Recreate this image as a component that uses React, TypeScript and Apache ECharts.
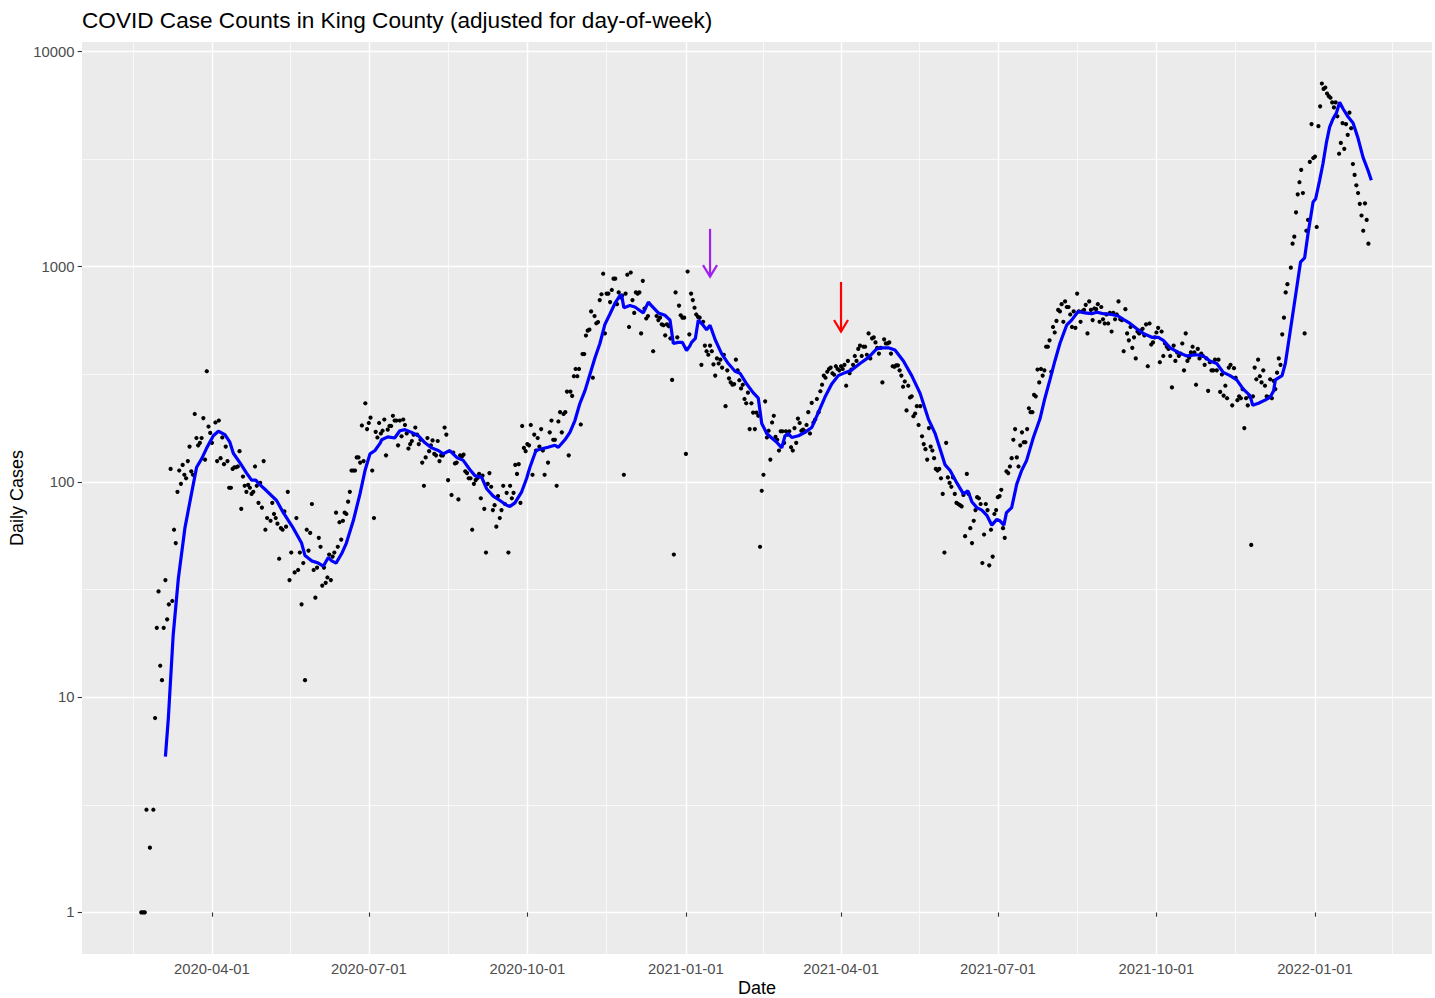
import React, { useEffect, useRef } from "react";
import * as echarts from "echarts";

const DAY_MS = 86400000;
const ORIGIN_DATE = "2020-04-01"; // day 0 of the offsets below
const SCATTER_START = "2020-02-20"; // date of DAILY_CASES[0]

// Daily (day-of-week adjusted) case counts, one per day from SCATTER_START
const DAILY_CASES: (number | null)[] = [
  1, 1, 1, 3, null, 2, null, 3, 8, 21,
  31, 14, 12, 21, 35, 23, 27, 115, 28, 60,
  52, 90, 113, 98, 120, 108, 104, 125, 146, 112,
  108, 207, 160, 148, 152, 160, 198, 127, 327, 181,
  169, 152, null, 189, 125, 193, 129, 161, 121, 146,
  125, 94, 94, 115, 117, 117, 118, 139, 75, 106,
  96, 90, 97, 94, 88, 90, 118, 96, 80, 99,
  76, 125, 60, 68, null, 66, 80, 71, 68, 64,
  44, 61, 60, 73, 62, 90, 35, 47, null, 38,
  68, 39, 47, 27, 42, 12, 60, 48, 58, 79,
  39, 29, 40, 55, 50, 33, 40, 34, 36, 46,
  35, 45, 47, 72, 50, 65, 54, 66, 72, 71,
  81, 90, 113, 113, 113, 130, 130, 123, 183, 125,
  232, 176, 188, 199, 113, 68, 171, 161, 188, 168,
  173, 195, 133, 175, 182, 182, 203, 193, 193, 148,
  193, 163, 195, 184, 168, 143, 150, 155, 166, 179,
  166, 150, 157, 123, 96, 130, 160, 139, 148, 156,
  135, 133, 155, 125, 133, 133, 179, 166, 102, null,
  87, 137, 122, 123, 83, 133, 131, 134, 112, 110,
  104, 104, 60, 98, 102, 104, 109, 84, 107, 75,
  47, 98, 110, 95, 74, 78, 62, 86, 68, 74,
  96, 79, 89, 47, 96, 84, 89, 120, 109, 121,
  80, 182, 144, 139, 150, 148, 184, 108, 166, 140,
  160, 146, 176, 140, 108, null, 123, 170, 193, 157,
  157, 96, 191, 211, 170, 207, 211, 263, 133, 263,
  251, 310, 335, 310, 335, 185, 393, 393, 479, 505,
  510, 620, 305, 590, 546, 553, 700, 745, 928, 490,
  750, 750, 685, 780, 880, 880, 670, 760, 720, 735,
  108, 750, 918, 525, 940, 700, 610, 760, 750, 760,
  490, 860, 640, 575, 590, null, null, 405, null, 590,
  565, 580, 540, 535, 480, 540, 530, 465, 298, 46,
  760, 470, 660, 595, 580, 580, 135, 950, 485, 750,
  700, 645, 600, 585, 580, 350, 555, 430, 405, 390,
  430, 405, 352, 312, 375, 355, 370, 340, 390, 225,
  330, 303, 290, 283, 285, 370, 330, 297, 272, 283,
  243, 232, 260, 176, 232, 210, 176, 210, 203, 50,
  91, 108, 237, 161, 173, 127, 189, 203, 162, 157,
  140, 172, 172, 152, 172, 166, 172, 145, 140, 178,
  152, 197, 188, 173, 175, 172, 184, 211, 168, 233,
  189, 195, 243, 211, 264, 283, 312, 305, 325, 335,
  340, 320, 315, 345, 335, 330, 345, 335, 350, 280,
  365, 320, 333, 350, 385, 365, 415, 430, 385, 425,
  425, 390, 490, 375, 465, 470, 445, 420, 395, 420,
  290, 460, 440, 440, 445, 395, 345, 343, 348, 348,
  330, 312, 277, 293, 215, 280, 247, 250, 202, 208,
  225, 184, 225, 163, 150, 142, 127, 178, 146, 140,
  129, 115, 113, 115, 104, 88, 47, 152, 105, 99,
  95, 105, 88, 80, 79, 78, 77, 87, 56, 109,
  88, 61, 52, 66, 74, 85, 84, 79, 42, 57,
  79, 74, 41, 60, 45, 71, 74, 85, 86, 92,
  61, 55, 112, 110, 118, 129, 157, 176, 130, 118,
  148, 170, 153, 153, 176, 220, 211, 211, 254, 250,
  333, 290, 335, 312, 330, 425, 425, 455, 325, 525,
  495, 560, 630, 620, 670, 555, 690, 650, 650, 600,
  525, 620, 520, 750, 620, 555, 620, 630, 665, 490,
  690, 630, 565, 640, 635, 670, 555, 650, 570, 545,
  600, 545, 610, 500, 610, 570, 600, 690, 570, 565,
  405, 635, 490, 455, 525, 420, 470, 375, 500, 490,
  505, 515, 480, 540, 345, 545, 435, 445, 470, 495,
  520, 360, 500, 385, 440, 425, 415, 385, 275, 430,
  365, 400, 385, 395, 440, 330, 490, 365, 378, 400,
  425, 400, 283, 415, 375, 395, 385, 350, 375, 265,
  360, 330, 330, 370, 330, 370, 262, 316, 252, 280,
  245, 340, 350, 227, 338, 305, 240, 250, 245, 270,
  178, 245, 227, 250, 51, 250, 340, 300, 370, 310,
  290, 330, 280, 250, 248, 300, 245, 295, 270, 322,
  375, 350, 485, 580, 760, 830, null, 990, 1280, 1380,
  1790, 2170, 2470, 2820, 2200, 490, 1470, 1650, 3070, 4600,
  3200, 3250, 1530, 4500, 5560, 7100, 6700, 6800, 6380, 6200,
  6100, 5800, 5500, 5800, 5000, 3350, 3760, 4650, 3530, 4600,
  4100, 5200, 4400, 3000, 2670, 2390, 2200, 1960, 1730, 1470,
  1970, 1650, 1280,
];

// Smoothed (blue) line: day offset from ORIGIN_DATE, and value
const LINE_DAY: number[] = [
  -27, -25.3, -22.5, -19.5, -15.7, -11.8, -8.9, -6, -3, 0.8, 3.7, 7.5, 10.4, 12.4, 16.2, 20.1, 23, 25.4, 27.3,
  31.7, 37.5, 41.4, 47.2, 52, 54, 57.8, 61.7, 64.6, 67.5, 69.5, 72, 75.3, 78, 82, 85.9, 88.8, 91.7, 94.6, 97.5,
  98.5, 102, 106, 109, 112, 115.9, 119.7, 123.6, 127.5, 131.3, 134.2, 138, 142, 145.8, 149.7, 152.6, 156.5,
  159.4, 163.2, 167.1, 171, 172.9, 175.8, 179.7, 182.6, 184.5, 188, 192, 195, 199, 201, 204.8, 207.7, 210.6,
  213.5, 216.4, 219.3, 222.2, 225.1, 228, 231, 233.8, 236.7, 237.7, 239, 242.5, 245.4, 250.3, 253.2, 255, 259,
  262.8, 265.8, 267.7, 270.6, 273, 275.4, 277.4, 278.3, 280.5, 282.2, 285, 287, 289, 292, 295.7, 299.6, 303.5,
  306.4, 310.3, 314, 317, 319, 321.9, 324.8, 327.7, 330.6, 332.5, 334.4, 336.4, 340.3, 344.1, 348, 351.8,
  355.7, 359.6, 363.4, 367.3, 371, 376, 380.8, 385.7, 388.6, 392.5, 396.3, 401.2, 406, 410.9, 415.7, 419.6,
  423.4, 425.4, 428.3, 432.2, 436, 438.6, 440.9, 443.8, 446.7, 449.6, 452.5, 455.4, 457.2, 459.5, 461, 464,
  467, 469.8, 472.7, 476.6, 480.4, 483.3, 486.2, 489.1, 492, 495.9, 498.8, 502.6, 506.5, 510.4, 513.3, 517.2,
  522, 525.9, 528.8, 532.7, 536.6, 540.4, 545.3, 549.1, 552, 556, 560.7, 565.6, 571.4, 575.2, 579.1, 583,
  586.8, 590.7, 594.6, 598.4, 602.3, 603.9, 607.2, 611, 614, 616, 617, 620.9, 622.8, 626, 628.9, 631.6, 634,
  636, 638.9, 640.4, 642.7, 644.6, 646.6, 648.5, 650.4, 652.4, 654.3, 656.3, 659.2, 662.1, 665, 667.9, 670.8,
  672.7,
];
const LINE_CASES: number[] = [
  5.3, 8, 19.4, 35.6, 61, 89, 117, 128, 144, 164, 172, 166, 153, 136, 123, 110, 102, 102, 98,
  91, 82, 72, 61, 52, 45.5, 43, 42, 40.6, 44.6, 43, 42, 46.5, 52, 66, 88, 113, 135, 140, 151,
  157, 162, 160, 173, 175, 170, 164, 152, 144, 140, 135, 140, 130, 126, 114, 107, 105,
  93, 86, 82, 78, 77, 80, 90, 104, 117, 140, 143, 145, 148, 145, 157, 170, 193,
  232, 265, 316, 377, 440, 540, 605, 675, 735, 740, 645, 660, 650, 610, 685, 660, 610,
  595, 565, 440, 445, 445, 408, 430, 445, 465, 565, 535, 510, 535, 458, 395, 355, 327,
  320, 285, 260, 245, 187, 168, 160, 153, 144, 164, 168, 161, 164, 170, 179, 210,
  248, 285, 312, 322, 330, 355, 378, 415, 420, 420, 410, 365, 312, 258, 196, 168,
  135, 120, 113, 99, 88, 91, 81, 76, 74, 70, 63, 67, 66, 63, 72, 76,
  98, 113, 126, 161, 196, 245, 298, 365, 440, 535, 565, 620, 610, 605, 615, 605,
  600, 590, 570, 545, 515, 490, 470, 470, 455, 420, 400, 385, 390, 385, 365, 355,
  323, 312, 298, 270, 252, 227, 232, 240, 248, 265, 298, 312, 355, 525, 750, 1050, 1100,
  1430, 2000, 2070, 2520, 3000, 3760, 4450, 4850, 5170, 5810, 5420, 4970, 4650, 3950, 3220, 2800,
  2520,
];

// Axis breaks
const X_BREAKS = [
  "2020-01-01", "2020-04-01", "2020-07-01", "2020-10-01", "2021-01-01",
  "2021-04-01", "2021-07-01", "2021-10-01", "2022-01-01", "2022-04-01",
];
const X_LABELLED = [
  "2020-04-01", "2020-07-01", "2020-10-01", "2021-01-01",
  "2021-04-01", "2021-07-01", "2021-10-01", "2022-01-01",
];
const X_RANGE_DAYS = [-75.4, 707.9];
const Y_TICKS = [1, 10, 100, 1000, 10000];
const Y_RANGE = [0.641, 11070];

// Annotation arrows
const ARROW_DATES = ["2021-01-15", "2021-04-01"];
const ARROW_FROM = [1500, 850];
const ARROW_TO = [900, 500];
const ARROW_COLORS = ["#A020F0", "#FF0000"];

const FONT = "'Liberation Sans', Arial, Helvetica, sans-serif";

export default function App() {
  const ref = useRef<HTMLDivElement>(null);

  useEffect(() => {
    if (!ref.current) return;
    const chart = echarts.init(ref.current, null, { renderer: "svg" });
    const toMs = (s: string) => Date.parse(s + "T00:00:00Z");
    const origin = toMs(ORIGIN_DATE);
    const start = toMs(SCATTER_START);

    const scatterData: number[][] = [];
    DAILY_CASES.forEach((v, i) => {
      if (v != null) scatterData.push([start + i * DAY_MS, v]);
    });
    const lineData = LINE_DAY.map((d, i) => [origin + d * DAY_MS, LINE_CASES[i]]);
    const arrowData = ARROW_DATES.map((d, i) => [toMs(d), ARROW_FROM[i], ARROW_TO[i]]);

    const xMin = origin + X_RANGE_DAYS[0] * DAY_MS;
    const xMax = origin + X_RANGE_DAYS[1] * DAY_MS;
    const breaks = X_BREAKS.map(toMs);
    const majorX = X_LABELLED.map(toMs);
    const minorX = breaks.slice(1).map((t, i) => (t + breaks[i]) / 2);
    const yLogMin = Math.log10(Y_RANGE[0]);
    const yLogMax = Math.log10(Y_RANGE[1]);
    const majorY = Y_TICKS.map((v) => Math.log10(v));
    const minorY = majorY.slice(1).map((v, i) => (v + majorY[i]) / 2);

    const fmtDate = (v: number) => new Date(v).toISOString().slice(0, 10);

    const hiddenX = {
      type: "value",
      min: xMin,
      max: xMax,
      position: "bottom",
      axisLine: { show: false },
      axisLabel: { show: false },
    };

    chart.setOption({
      animation: false,
      grid: {
        left: 82,
        right: 3,
        top: 42,
        bottom: 44,
        show: true,
        backgroundColor: "#EBEBEB",
        borderWidth: 0,
        containLabel: false,
      },
      xAxis: [
        {
          type: "value",
          min: xMin,
          max: xMax,
          position: "bottom",
          axisLine: { show: false },
          axisTick: {
            show: true,
            customValues: majorX,
            length: 4.3,
            lineStyle: { color: "#333333", width: 1.1 },
          },
          axisLabel: {
            customValues: majorX,
            formatter: (v: number) => fmtDate(v),
            color: "#4D4D4D",
            fontSize: 14.8,
            fontFamily: FONT,
            margin: 7.5,
          },
          splitLine: { show: true, lineStyle: { color: "#FFFFFF", width: 1.4 } },
        },
        {
          ...hiddenX,
          axisTick: { show: false, customValues: minorX },
          splitLine: { show: true, lineStyle: { color: "#FFFFFF", width: 0.7 } },
        },
      ],
      yAxis: [
        {
          type: "log",
          min: Y_RANGE[0],
          max: Y_RANGE[1],
          show: false,
        },
        {
          type: "value",
          min: yLogMin,
          max: yLogMax,
          position: "left",
          axisLine: { show: false },
          axisTick: {
            show: true,
            customValues: majorY,
            length: 4.3,
            lineStyle: { color: "#333333", width: 1.1 },
          },
          axisLabel: {
            customValues: majorY,
            formatter: (v: number) => String(Math.round(Math.pow(10, v))),
            color: "#4D4D4D",
            fontSize: 14.8,
            fontFamily: FONT,
            margin: 7.5,
          },
          splitLine: { show: true, lineStyle: { color: "#FFFFFF", width: 1.4 } },
        },
        {
          type: "value",
          min: yLogMin,
          max: yLogMax,
          position: "left",
          axisLine: { show: false },
          axisTick: { show: false, customValues: minorY },
          axisLabel: { show: false },
          splitLine: { show: true, lineStyle: { color: "#FFFFFF", width: 0.7 } },
        },
      ],
      graphic: [
        {
          type: "text",
          x: 82,
          y: 20,
          style: {
            text: "COVID Case Counts in King County (adjusted for day-of-week)",
            font: `22.6px ${FONT}`,
            fill: "#000000",
            textAlign: "left",
            textVerticalAlign: "middle",
          },
        },
        {
          type: "text",
          x: 757,
          y: 988,
          style: {
            text: "Date",
            font: `18px ${FONT}`,
            fill: "#000000",
            textAlign: "center",
            textVerticalAlign: "middle",
          },
        },
        {
          type: "text",
          x: 17,
          y: 498,
          rotation: Math.PI / 2,
          style: {
            text: "Daily Cases",
            font: `18px ${FONT}`,
            fill: "#000000",
            textAlign: "center",
            textVerticalAlign: "middle",
          },
        },
      ],
      series: [
        {
          type: "scatter",
          xAxisIndex: 0,
          yAxisIndex: 0,
          data: scatterData,
          symbol: "circle",
          symbolSize: 4.2,
          itemStyle: { color: "#000000", opacity: 1 },
          silent: true,
          z: 3,
        },
        {
          type: "line",
          xAxisIndex: 0,
          yAxisIndex: 0,
          data: lineData,
          showSymbol: false,
          symbol: "none",
          lineStyle: { color: "#0000FF", width: 3.2 },
          silent: true,
          z: 4,
        },
        {
          type: "custom",
          xAxisIndex: 0,
          yAxisIndex: 0,
          data: arrowData,
          silent: true,
          z: 5,
          renderItem: (params: any, api: any) => {
            const p1 = api.coord([api.value(0), api.value(1)]);
            const p2 = api.coord([api.value(0), api.value(2)]);
            const color = ARROW_COLORS[params.dataIndex];
            const hl = 11.5;
            const hw = 7;
            return {
              type: "group",
              children: [
                {
                  type: "line",
                  shape: { x1: p1[0], y1: p1[1], x2: p2[0], y2: p2[1] },
                  style: { stroke: color, lineWidth: 2.2 },
                },
                {
                  type: "polyline",
                  shape: {
                    points: [
                      [p2[0] - hw, p2[1] - hl],
                      [p2[0], p2[1]],
                      [p2[0] + hw, p2[1] - hl],
                    ],
                  },
                  style: { stroke: color, lineWidth: 2.2, fill: null },
                },
              ],
            };
          },
        },
      ],
    });

    return () => chart.dispose();
  }, []);

  return (
    <div
      ref={ref}
      style={{ position: "fixed", left: 0, top: 0, width: 1435, height: 998, background: "#FFFFFF" }}
    />
  );
}
